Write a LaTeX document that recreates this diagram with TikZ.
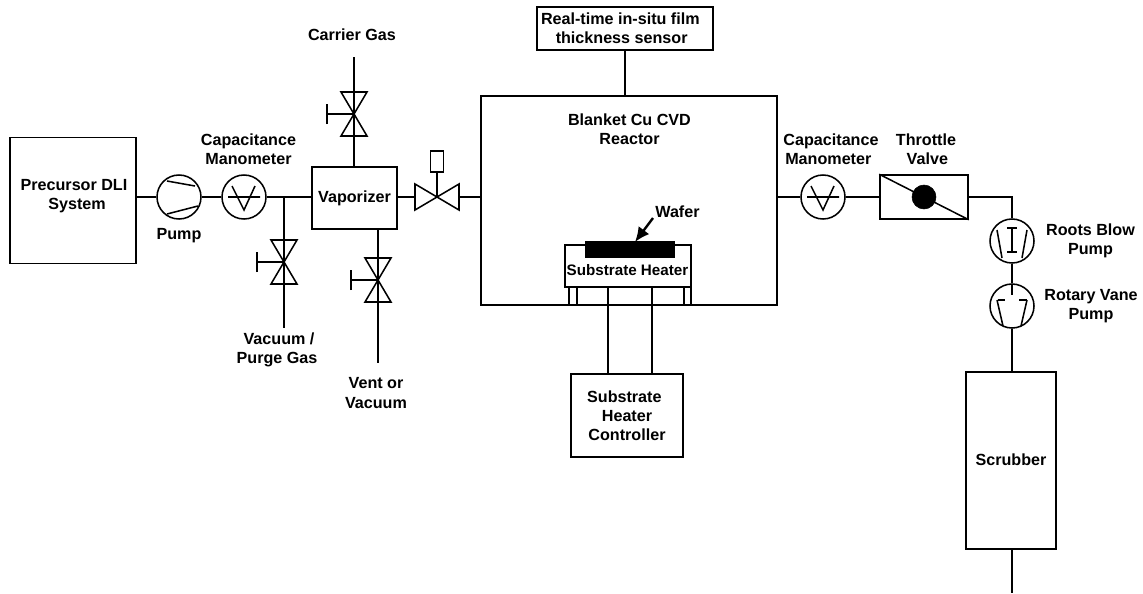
\documentclass[tikz,border=0pt]{standalone}
\usepackage{fontspec}
\setmainfont{Liberation Sans}
\usetikzlibrary{arrows.meta}
\tikzset{
  pipe/.style={line width=1.15pt},
  txt/.style={font=\fontsize{12.1pt}{14.3pt}\selectfont\bfseries,align=center},
  lbl/.style={txt,inner sep=0pt},
  box/.style={draw,txt,line width=1.15pt,inner sep=0pt},
  round/.style={draw,circle,line width=1.15pt,inner sep=0pt,minimum size=33pt},
  valvev/.pic={
    \draw[pipe] (-13,-22) -- (13,-22) -- (-13,22) -- (13,22) -- cycle;
    \draw[pipe] (0,0) -- (-27,0) (-27,-10) -- (-27,10);
    \coordinate (-top) at (0,-22);
    \coordinate (-bot) at (0,22);
  },
}
\begin{document}
\begin{tikzpicture}[x=0.75pt,y=0.75pt,yscale=-1]
\useasboundingbox (0,0) rectangle (1143,593);

%Boxes
\node (precursor) [box,minimum width=94.5pt,minimum height=94.5pt] at (73,200.3) {};
\node (vaporizer) [box,minimum width=64pt,minimum height=46.5pt] at (354.5,198) {Vaporizer};
\node (reactor) [box,minimum width=222pt,minimum height=157pt] at (629,200.5) {};
\node (sensor) [box,minimum width=132pt,minimum height=32pt] at (625,28.5) {Real-time in-situ film\hspace*{7pt}\\thickness sensor\hspace*{5pt}};
\node (heater) [box,minimum width=94.5pt,minimum height=31.5pt] at (628,266) {};
\node (wafer) [box,fill=black,minimum width=66pt,minimum height=11pt] at (630,249.5) {};
\node (controller) [box,minimum width=84pt,minimum height=62pt] at (627,415.5) {Substrate\hspace*{4pt}\\Heater\\Controller};
\node (throttle) [box,minimum width=66pt,minimum height=33pt] at (924,197) {};
\node (scrubber) [box,minimum width=67.5pt,minimum height=133pt] at (1011,460.5) {\raisebox{2pt}{Scrubber}};

%Legs of the heater
\node (legleft) [box,minimum width=6pt,minimum height=13.5pt] at (573,296) {};
\node (legright) [box,minimum width=5.25pt,minimum height=13.5pt] at (687.5,296) {};

%Circles
\node (pump) [round] at (179,197) {};
\node (gaugeleft) [round] at (244,197) {};
\node (gaugeright) [round] at (823,197) {};
\node (roots) [round] at (1012,241) {};
\node (rotary) [round] at (1012,306) {};

%Symbols in the circles
\draw[pipe] (167,181) -- (195,186) (167,214) -- (198,206);
\draw[pipe] (228,197) -- (260,197) (232,186) -- (244,210) -- (255,186);
\draw[pipe] (807,197) -- (839,197) (811,186) -- (823,210) -- (834,186);
\draw[pipe] (997,230) -- (1002,258) (1027,230) -- (1022,258);
\draw[pipe] (1012,228) -- (1012,252) (1007,228) -- (1017,228) (1007,252) -- (1017,252);
\draw[pipe] (997,300) -- (1003,326) (1027,300) -- (1021,326);
\draw[pipe] (998,300) -- (1005,300) (1019,300) -- (1027,300) (1012,284) -- (1012,295);

%Throttle valve
\draw[pipe] (throttle.north west) -- (throttle.south east);
\node (disc) [draw,circle,fill=black,inner sep=0pt,minimum size=18pt] at (throttle.center) {};

%Valves
\pic (vtop) at (354,114) {valvev};
\pic (vpurge) at (284,262) {valvev};
\pic (vvent) at (378,280) {valvev};

%Solenoid valve
\coordinate (solleft) at (415,197);
\coordinate (solmid) at (437,197);
\coordinate (solright) at (459,197);
\node (solbox) [box,minimum width=10pt,minimum height=16pt] at (437,161.5) {};
\draw[pipe] (415,184) -- (459,210) -- (459,184) -- (415,210) -- cycle;
\draw[pipe] (solmid) -- (solbox.south);

% Text Node
\node (carrier) [lbl] at (352,35) {Carrier Gas};
\node (capleft) [lbl] at (248.5,149) {Capacitance\\Manometer};
\node (capright) [lbl] at (831,149) {Capacitance\\Manometer\hspace*{4pt}};
\node (throttlelbl) [lbl] at (926,149) {Throttle\\\hspace*{2pt}Valve};
\node (pumplbl) [lbl] at (179,236) {Pump};
\node (purgelbl) [lbl] at (277,349.5) {\hspace*{3pt}Vacuum /\\Purge Gas};
\node (ventlbl) [lbl] at (376,393) {Vent or\\Vacuum};
\node (reactorlbl) [lbl] at (629.5,129.5) {Blanket Cu CVD\\Reactor};
\node (precursorlbl) [lbl] at (74,196.5) {Precursor DLI\\\hspace*{4.5pt}System};
\node (heaterlbl) [lbl,font=\fontsize{11.4pt}{14.3pt}\selectfont\bfseries] at (627.5,270) {Substrate Heater};
\node (waferlbl) [lbl] at (677.5,212) {Wafer};
\node (rootslbl) [lbl] at (1090.5,240.5) {Roots Blow\\Pump};
\node (rotarylbl) [lbl] at (1091,306.5) {Rotary Vane\\Pump};

%Free ends
\coordinate (carrierend) at (354,57);
\coordinate (purgeend) at (284,328);
\coordinate (ventend) at (378,363);
\coordinate (outlet) at (1012,593);
\coordinate (wiretop) at (608,287);
\coordinate (wirebot) at (652,287);
\coordinate (arrowstart) at (653,218);
\coordinate (arrowend) at (635,242);
\coordinate (bend) at (1012,197);
\coordinate (tee) at (284,197);

%Straight Lines
\draw[pipe] (precursor.east |- pump.west) -- (pump.west);
\draw[pipe] (pump.east) -- (gaugeleft.west);
\draw[pipe] (gaugeleft.east) -- (vaporizer.west |- gaugeleft.east);
\draw[pipe] (tee) -- (vpurge-top);
\draw[pipe] (vpurge-bot) -- (purgeend);
\draw[pipe] (carrierend) -- (vtop-top);
\draw[pipe] (vtop-bot) -- (vtop-bot |- vaporizer.north);
\draw[pipe] (vvent-top |- vaporizer.south) -- (vvent-top);
\draw[pipe] (vvent-bot) -- (ventend);
\draw[pipe] (vaporizer.east |- solleft) -- (solleft);
\draw[pipe] (solright) -- (reactor.west |- solright);
\draw[pipe] (sensor.south) -- (sensor.south |- reactor.north);
\draw[pipe] (wiretop) -- (wiretop |- controller.north);
\draw[pipe] (wirebot) -- (wirebot |- controller.north);
\draw[pipe] (reactor.east |- gaugeright.west) -- (gaugeright.west);
\draw[pipe] (gaugeright.east) -- (throttle.west);
\draw[pipe] (throttle.east) -- (bend) -- (roots.north);
\draw[pipe] (roots.south) -- (rotary.north);
\draw[pipe] (rotary.south) -- (rotary.south |- scrubber.north);
\draw[pipe] (rotary.south |- scrubber.south) -- (outlet);
\draw[line width=1.8pt,-{Latex[length=11pt,width=10pt]}] (arrowstart) -- (arrowend);

\end{tikzpicture}
\end{document}
